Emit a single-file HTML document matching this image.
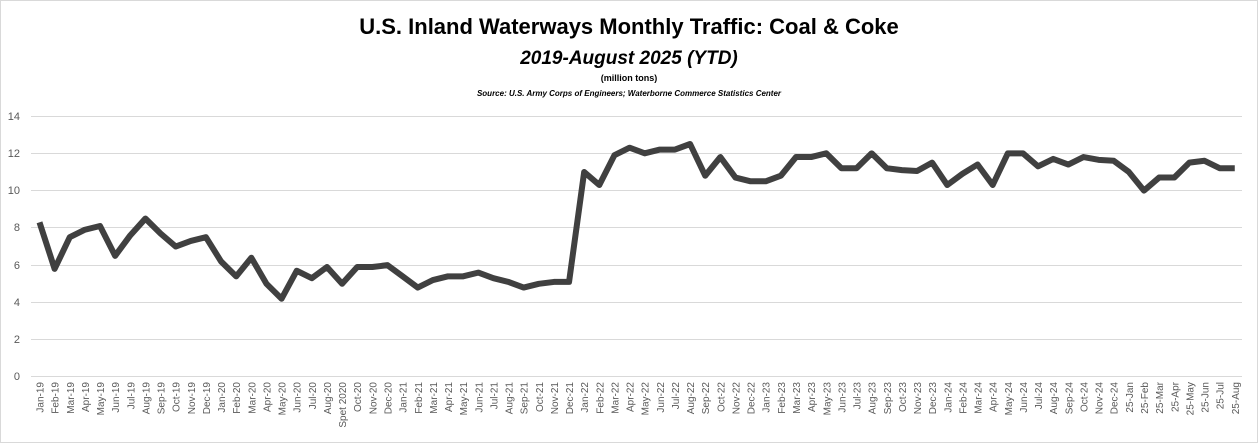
<!DOCTYPE html>
<html><head><meta charset="utf-8"><style>
html,body{margin:0;padding:0;background:#fff;}
svg{display:block;}
</style></head><body>
<svg width="1258" height="443" xmlns="http://www.w3.org/2000/svg" font-family="Liberation Sans, sans-serif">
<rect x="0.5" y="0.5" width="1257" height="442" fill="#fff" stroke="#d9d9d9"/>
<text x="629" y="34" text-anchor="middle" font-size="22" font-weight="bold" fill="#000">U.S. Inland Waterways Monthly Traffic:  Coal &amp; Coke</text>
<text x="629" y="64" text-anchor="middle" font-size="19" font-weight="bold" font-style="italic" fill="#000">2019-August 2025 (YTD)</text>
<text x="629" y="81" text-anchor="middle" font-size="9" font-weight="bold" fill="#000">(million tons)</text>
<text x="629" y="96" text-anchor="middle" font-size="8" font-weight="bold" font-style="italic" fill="#000">Source:  U.S. Army Corps of Engineers; Waterborne Commerce Statistics Center</text>
<g stroke="#d9d9d9" stroke-width="1">
<line x1="31" x2="1242" y1="116.5" y2="116.5"/>
<line x1="31" x2="1242" y1="153.5" y2="153.5"/>
<line x1="31" x2="1242" y1="190.5" y2="190.5"/>
<line x1="31" x2="1242" y1="227.5" y2="227.5"/>
<line x1="31" x2="1242" y1="265.5" y2="265.5"/>
<line x1="31" x2="1242" y1="302.5" y2="302.5"/>
<line x1="31" x2="1242" y1="339.5" y2="339.5"/>
<line x1="31" x2="1242" y1="376.5" y2="376.5"/>
</g>
<g font-size="11" fill="#595959" text-anchor="end">
<text x="20" y="120">14</text><text x="20" y="157">12</text><text x="20" y="194">10</text><text x="20" y="231">8</text><text x="20" y="269">6</text><text x="20" y="306">4</text><text x="20" y="343">2</text><text x="20" y="380">0</text>
</g>
<g transform="translate(39.5,377) scale(15.13,-18.64)">
<polyline fill="none" stroke="#404040" stroke-width="6" stroke-linejoin="round" vector-effect="non-scaling-stroke" points="0,8.3 1,5.8 2,7.5 3,7.9 4,8.1 5,6.5 6,7.6 7,8.5 8,7.7 9,7.0 10,7.3 11,7.5 12,6.2 13,5.4 14,6.4 15,5.0 16,4.2 17,5.7 18,5.3 19,5.9 20,5.0 21,5.9 22,5.9 23,6.0 24,5.4 25,4.8 26,5.2 27,5.4 28,5.4 29,5.6 30,5.3 31,5.1 32,4.8 33,5.0 34,5.1 35,5.1 36,11.0 37,10.3 38,11.9 39,12.3 40,12.0 41,12.2 42,12.2 43,12.5 44,10.8 45,11.8 46,10.7 47,10.5 48,10.5 49,10.8 50,11.8 51,11.8 52,12.0 53,11.2 54,11.2 55,12.0 56,11.2 57,11.1 58,11.05 59,11.5 60,10.3 61,10.9 62,11.4 63,10.3 64,12.0 65,12.0 66,11.3 67,11.7 68,11.4 69,11.8 70,11.65 71,11.6 72,11.0 73,10.0 74,10.7 75,10.7 76,11.5 77,11.6 78,11.2 79,11.2"/>
</g>
<g font-size="10" fill="#595959" text-anchor="end">
<text transform="translate(43.5,382) rotate(-90)">Jan-19</text>
<text transform="translate(58.6,382) rotate(-90)">Feb-19</text>
<text transform="translate(73.8,382) rotate(-90)">Mar-19</text>
<text transform="translate(88.9,382) rotate(-90)">Apr-19</text>
<text transform="translate(104,382) rotate(-90)">May-19</text>
<text transform="translate(119.2,382) rotate(-90)">Jun-19</text>
<text transform="translate(134.3,382) rotate(-90)">Jul-19</text>
<text transform="translate(149.4,382) rotate(-90)">Aug-19</text>
<text transform="translate(164.5,382) rotate(-90)">Sep-19</text>
<text transform="translate(179.7,382) rotate(-90)">Oct-19</text>
<text transform="translate(194.8,382) rotate(-90)">Nov-19</text>
<text transform="translate(209.9,382) rotate(-90)">Dec-19</text>
<text transform="translate(225.1,382) rotate(-90)">Jan-20</text>
<text transform="translate(240.2,382) rotate(-90)">Feb-20</text>
<text transform="translate(255.3,382) rotate(-90)">Mar-20</text>
<text transform="translate(270.5,382) rotate(-90)">Apr-20</text>
<text transform="translate(285.6,382) rotate(-90)">May-20</text>
<text transform="translate(300.7,382) rotate(-90)">Jun-20</text>
<text transform="translate(315.8,382) rotate(-90)">Jul-20</text>
<text transform="translate(331,382) rotate(-90)">Aug-20</text>
<text transform="translate(346.1,382) rotate(-90)">Spet 2020</text>
<text transform="translate(361.2,382) rotate(-90)">Oct-20</text>
<text transform="translate(376.4,382) rotate(-90)">Nov-20</text>
<text transform="translate(391.5,382) rotate(-90)">Dec-20</text>
<text transform="translate(406.6,382) rotate(-90)">Jan-21</text>
<text transform="translate(421.8,382) rotate(-90)">Feb-21</text>
<text transform="translate(436.9,382) rotate(-90)">Mar-21</text>
<text transform="translate(452,382) rotate(-90)">Apr-21</text>
<text transform="translate(467.1,382) rotate(-90)">May-21</text>
<text transform="translate(482.3,382) rotate(-90)">Jun-21</text>
<text transform="translate(497.4,382) rotate(-90)">Jul-21</text>
<text transform="translate(512.5,382) rotate(-90)">Aug-21</text>
<text transform="translate(527.7,382) rotate(-90)">Sep-21</text>
<text transform="translate(542.8,382) rotate(-90)">Oct-21</text>
<text transform="translate(557.9,382) rotate(-90)">Nov-21</text>
<text transform="translate(573.1,382) rotate(-90)">Dec-21</text>
<text transform="translate(588.2,382) rotate(-90)">Jan-22</text>
<text transform="translate(603.3,382) rotate(-90)">Feb-22</text>
<text transform="translate(618.4,382) rotate(-90)">Mar-22</text>
<text transform="translate(633.6,382) rotate(-90)">Apr-22</text>
<text transform="translate(648.7,382) rotate(-90)">May-22</text>
<text transform="translate(663.8,382) rotate(-90)">Jun-22</text>
<text transform="translate(679,382) rotate(-90)">Jul-22</text>
<text transform="translate(694.1,382) rotate(-90)">Aug-22</text>
<text transform="translate(709.2,382) rotate(-90)">Sep-22</text>
<text transform="translate(724.4,382) rotate(-90)">Oct-22</text>
<text transform="translate(739.5,382) rotate(-90)">Nov-22</text>
<text transform="translate(754.6,382) rotate(-90)">Dec-22</text>
<text transform="translate(769.7,382) rotate(-90)">Jan-23</text>
<text transform="translate(784.9,382) rotate(-90)">Feb-23</text>
<text transform="translate(800,382) rotate(-90)">Mar-23</text>
<text transform="translate(815.1,382) rotate(-90)">Apr-23</text>
<text transform="translate(830.3,382) rotate(-90)">May-23</text>
<text transform="translate(845.4,382) rotate(-90)">Jun-23</text>
<text transform="translate(860.5,382) rotate(-90)">Jul-23</text>
<text transform="translate(875.7,382) rotate(-90)">Aug-23</text>
<text transform="translate(890.8,382) rotate(-90)">Sep-23</text>
<text transform="translate(905.9,382) rotate(-90)">Oct-23</text>
<text transform="translate(921,382) rotate(-90)">Nov-23</text>
<text transform="translate(936.2,382) rotate(-90)">Dec-23</text>
<text transform="translate(951.3,382) rotate(-90)">Jan-24</text>
<text transform="translate(966.4,382) rotate(-90)">Feb-24</text>
<text transform="translate(981.6,382) rotate(-90)">Mar-24</text>
<text transform="translate(996.7,382) rotate(-90)">Apr-24</text>
<text transform="translate(1011.8,382) rotate(-90)">May-24</text>
<text transform="translate(1027,382) rotate(-90)">Jun-24</text>
<text transform="translate(1042.1,382) rotate(-90)">Jul-24</text>
<text transform="translate(1057.2,382) rotate(-90)">Aug-24</text>
<text transform="translate(1072.3,382) rotate(-90)">Sep-24</text>
<text transform="translate(1087.5,382) rotate(-90)">Oct-24</text>
<text transform="translate(1102.6,382) rotate(-90)">Nov-24</text>
<text transform="translate(1117.7,382) rotate(-90)">Dec-24</text>
<text transform="translate(1132.9,382) rotate(-90)">25-Jan</text>
<text transform="translate(1148,382) rotate(-90)">25-Feb</text>
<text transform="translate(1163.1,382) rotate(-90)">25-Mar</text>
<text transform="translate(1178.3,382) rotate(-90)">25-Apr</text>
<text transform="translate(1193.4,382) rotate(-90)">25-May</text>
<text transform="translate(1208.5,382) rotate(-90)">25-Jun</text>
<text transform="translate(1223.6,382) rotate(-90)">25-Jul</text>
<text transform="translate(1238.8,382) rotate(-90)">25-Aug</text>
</g>
</svg>
</body></html>
